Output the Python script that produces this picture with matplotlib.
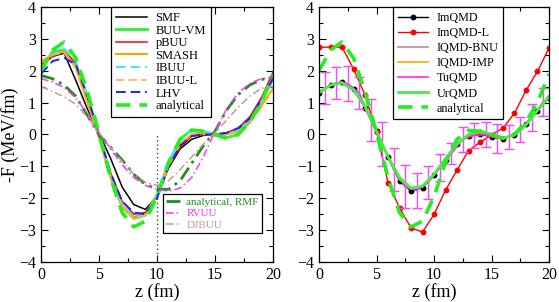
import matplotlib
matplotlib.use("Agg")
import matplotlib.pyplot as plt
from matplotlib.ticker import MultipleLocator

plt.rcParams["font.family"] = ["Liberation Serif", "DejaVu Serif"]

# ---- left panel data (z in fm, -F in MeV/fm) ----
z_int = list(range(0, 21))

smf = [2.15, 2.45, 2.55, 1.7, 0.8, 0.05, -0.75, -1.65, -2.2, -2.35, -1.95,
       -1.05, -0.45, -0.15, -0.03, 0.0, 0.05, 0.18, 0.5, 1.05, 1.75]
buu_vm = [2.0, 2.6, 2.65, 2.2, 1.2, 0.0, -1.3, -2.25, -2.6, -2.5, -1.9,
          -0.9, -0.15, 0.15, 0.1, 0.0, -0.1, 0.0, 0.4, 1.0, 1.8]
pbuu = [2.2, 2.45, 2.6, 2.25, 1.15, 0.0, -1.2, -2.1, -2.5, -2.45, -1.95,
        -1.0, -0.4, -0.05, 0.0, 0.0, 0.05, 0.2, 0.55, 1.15, 1.95]
smash = [2.3, 2.5, 2.6, 2.1, 1.0, -0.1, -1.35, -2.3, -2.65, -2.55, -1.9,
         -0.9, -0.3, 0.0, 0.05, -0.05, 0.0, 0.1, 0.4, 0.9, 1.45]
ibuu = [2.1, 2.5, 2.7, 2.3, 1.2, 0.0, -1.3, -2.2, -2.6, -2.55, -1.9,
        -0.85, -0.15, 0.12, 0.1, 0.0, 0.0, 0.15, 0.45, 1.0, 1.7]
ibuu_l = [2.25, 2.5, 2.55, 2.1, 1.1, -0.05, -1.3, -2.25, -2.65, -2.5, -2.0,
          -1.0, -0.3, 0.0, 0.0, 0.0, 0.0, 0.1, 0.35, 0.85, 1.4]
lhv = [1.9, 2.3, 2.4, 2.2, 1.2, 0.0, -1.2, -2.1, -2.45, -2.5, -2.0,
       -1.0, -0.35, -0.05, 0.0, 0.0, 0.05, 0.2, 0.5, 1.1, 1.75]
analytical = [2.0, 2.65, 2.9, 2.4, 1.35, 0.05, -1.35, -2.45, -2.9, -2.72, -1.95,
              -0.88, -0.15, 0.13, 0.1, 0.0, -0.12, 0.0, 0.4, 1.0, 1.9]

analytical_rmf = [1.85, 1.75, 1.55, 1.2, 0.6, 0.0, -0.4, -0.8, -1.25, -1.55, -1.72,
                  -1.72, -1.45, -0.9, -0.35, 0.1, 0.76, 1.25, 1.55, 1.72, 1.8]
rvuu = [1.75, 1.65, 1.47, 1.15, 0.65, 0.05, -0.45, -0.95, -1.35, -1.6, -1.72,
        -1.78, -1.68, -1.35, -0.7, 0.1, 0.8, 1.3, 1.6, 1.75, 1.8]
djbuu = [1.5, 1.35, 1.18, 0.95, 0.55, 0.05, -0.4, -0.85, -1.25, -1.5, -1.6,
         -1.45, -1.1, -0.7, -0.3, 0.05, 0.45, 0.85, 1.2, 1.45, 1.5]

z_split = 10  # position of the dotted separator

# ---- right panel data ----
imqmd = [1.3, 1.55, 1.66, 1.43, 0.83, 0.12, -0.72, -1.46, -1.77, -1.67, -1.28,
         -0.8, -0.3, -0.04, 0.03, -0.09, -0.13, -0.02, 0.33, 0.75, 1.14]
imqmd_l = [2.74, 2.74, 2.74, 2.06, 1.24, 0.09, -1.51, -2.3, -2.93, -3.06, -2.51,
           -1.75, -1.12, -0.51, -0.25, -0.01, 0.2, 0.67, 1.38, 1.98, 2.71]
iqmd_bnu = [1.35, 1.55, 1.65, 1.42, 0.85, 0.1, -0.72, -1.42, -1.72, -1.65, -1.28,
            -0.78, -0.3, -0.03, 0.05, -0.05, -0.1, 0.0, 0.35, 0.75, 1.15]
iqmd_imp = [1.32, 1.56, 1.64, 1.4, 0.86, 0.1, -0.7, -1.4, -1.7, -1.63, -1.26,
            -0.77, -0.29, -0.02, 0.06, -0.06, -0.11, 0.0, 0.34, 0.76, 1.16]
urqmd = [1.3, 1.55, 1.62, 1.4, 0.9, 0.1, -0.7, -1.35, -1.68, -1.62, -1.25,
         -0.75, -0.3, 0.0, 0.12, 0.0, -0.12, -0.02, 0.3, 0.75, 1.2]

z_half = [0.5, 1.5, 2.5, 3.5, 4.5, 5.5, 6.5, 7.5, 8.5, 9.5,
          10.5, 11.5, 12.5, 13.5, 14.5, 15.5, 16.5, 17.5, 18.5, 19.5]
tuqmd = [1.45, 1.62, 1.6, 1.3, 0.45, -0.3, -1.1, -1.63, -1.76, -1.5,
         -1.04, -0.6, -0.15, -0.03, 0.0, -0.12, -0.08, 0.15, 0.54, 1.03]
tuqmd_err = [0.5, 0.5, 0.55, 0.5, 0.65, 0.68, 0.67, 0.67, 0.54, 0.52,
             0.42, 0.32, 0.4, 0.38, 0.4, 0.45, 0.38, 0.4, 0.42, 0.44]


def style_axes(ax):
    ax.set_xlim(0, 20)
    ax.set_ylim(-4, 4)
    ax.xaxis.set_major_locator(MultipleLocator(5))
    ax.xaxis.set_minor_locator(MultipleLocator(2.5))
    ax.yaxis.set_major_locator(MultipleLocator(1))
    ax.yaxis.set_minor_locator(MultipleLocator(0.5))
    ax.tick_params(which="both", direction="in", top=True, right=True, labelsize=11.5)
    ax.tick_params(which="major", length=5, width=0.8)
    ax.tick_params(which="minor", length=3, width=0.8)
    ax.set_xlabel("z (fm)", fontsize=13, labelpad=0)
    for s in ax.spines.values():
        s.set_linewidth(0.9)


def boxed_legend(ax, handles, labels, fs=9, **kw):
    leg = ax.legend(handles, labels, fontsize=fs, frameon=True, fancybox=False,
                    edgecolor="black", framealpha=1, borderaxespad=0, **kw)
    leg.get_frame().set_linewidth(0.9)
    return leg


fig = plt.figure(figsize=(5.59, 3.02), dpi=100)
ax1 = fig.add_axes([0.0733, 0.1325, 0.415, 0.8444])
ax2 = fig.add_axes([0.5707, 0.1325, 0.4114, 0.8444])

# ---------- left ----------
h = []
h += ax1.plot(z_int, smf, color="black", lw=1.1)
h += ax1.plot(z_int, buu_vm, color="#33ee33", lw=2.0)
h += ax1.plot(z_int, pbuu, color="red", lw=1.1)
h += ax1.plot(z_int, smash, color="#ffa500", lw=1.5)
h += ax1.plot(z_int, ibuu, color="#33eeff", lw=1.4, ls=(0, (5, 2.5)))
h += ax1.plot(z_int, ibuu_l, color="#ffaa55", lw=1.2, ls=(0, (5, 2.5)))
h += ax1.plot(z_int, lhv, color="#2222ee", lw=1.4, ls=(0, (5, 2.5)))
h += ax1.plot(z_int, analytical, color="#22ee22", lw=2.6, ls=(0, (4, 2.5)))
labels1 = ["SMF", "BUU-VM", "pBUU", "SMASH", "IBUU", "IBUU-L", "LHV", "analytical"]

h2 = []
h2 += ax1.plot(z_int, analytical_rmf, color="#1f8f1f", lw=2.0, ls=(0, (5, 2, 1, 2)))
h2 += ax1.plot(z_int, rvuu, color="#ff33ff", lw=1.1, ls=(0, (5, 2, 1, 2)))
h2 += ax1.plot(z_int, djbuu, color="#c09a9a", lw=1.1, ls=(0, (5, 2, 1, 2)))
labels2 = ["analytical, RMF", "RVUU", "DJBUU"]

ax1.vlines(z_split, -4, 0, colors="#444444", linestyles=(0, (1, 2)), lw=1.0)

style_axes(ax1)
ax1.set_ylabel("-F (MeV/fm)", fontsize=13, labelpad=0)

leg1 = boxed_legend(ax1, h, labels1, loc="upper left", bbox_to_anchor=(0.30, 1.0),
                    handlelength=2.5, handletextpad=0.7, labelspacing=0.05,
                    borderpad=0.4)
ax1.add_artist(leg1)
leg2 = boxed_legend(ax1, h2, labels2, fs=8, loc="lower left",
                    bbox_to_anchor=(0.526, 0.114),
                    handlelength=1.3, handletextpad=0.5, labelspacing=0.12,
                    borderpad=0.3)
for txt, line in zip(leg2.get_texts(), h2):
    txt.set_color(line.get_color())

# ---------- right ----------
g = []
g += ax2.plot(z_int, imqmd, color="black", lw=1.0, marker="o", ms=3.2)
g += ax2.plot(z_int, imqmd_l, color="red", lw=1.0, marker="o", ms=3.2)
g += ax2.plot(z_int, iqmd_bnu, color="#bc8f8f", lw=1.2)
g += ax2.plot(z_int, iqmd_imp, color="#ffa500", lw=1.2)
g += ax2.plot(z_half, tuqmd, color="#ff22ff", lw=1.2)
ax2.errorbar(z_half, tuqmd, yerr=tuqmd_err, fmt="none", ecolor="#ff44ff",
             elinewidth=1.0, capsize=3.5, capthick=1.0)
g += ax2.plot(z_int, urqmd, color="#44ee44", lw=2.0)
g += ax2.plot(z_int, analytical, color="#22ee22", lw=2.6, ls=(0, (4, 2.5)))
labels3 = ["ImQMD", "ImQMD-L", "IQMD-BNU", "IQMD-IMP", "TuQMD", "UrQMD", "analytical"]

style_axes(ax2)
boxed_legend(ax2, g, labels3, fs=8.7, loc="upper left", bbox_to_anchor=(0.322, 1.0),
             handlelength=2.5, handletextpad=0.7, labelspacing=0.26, borderpad=0.4)

fig.savefig("out.png", dpi=100)
